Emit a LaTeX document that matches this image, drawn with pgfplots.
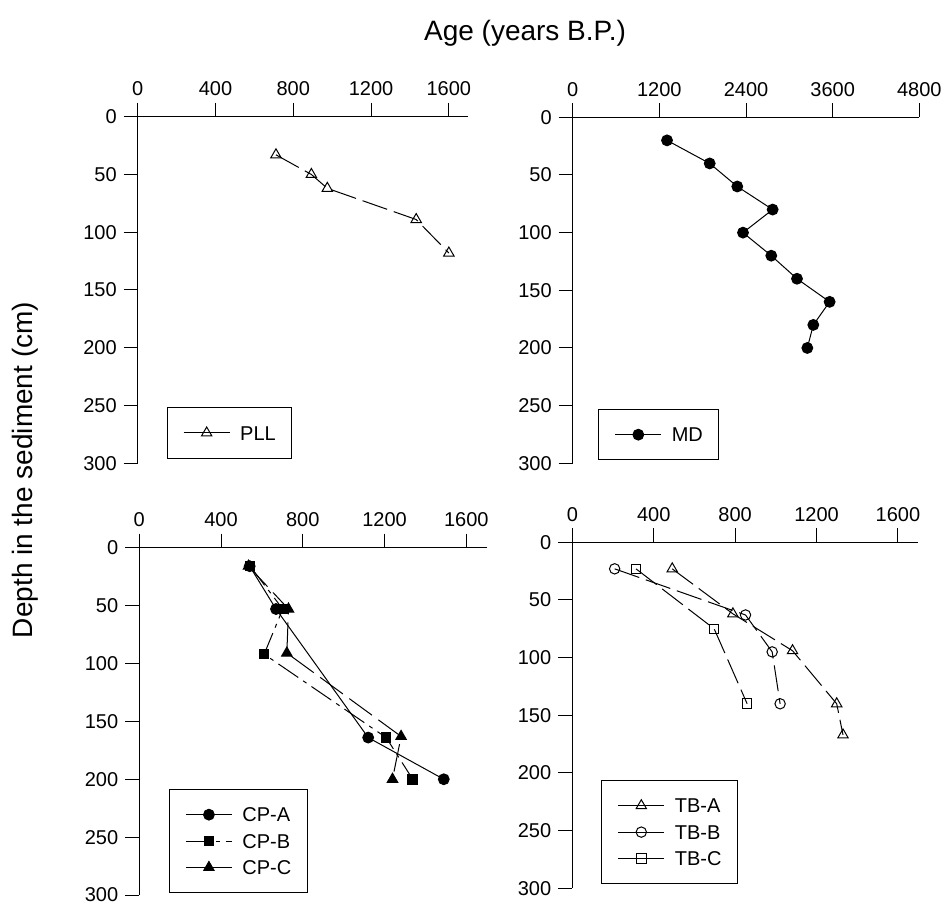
\documentclass[border=0pt]{standalone}
\usepackage{fontspec}
\setmainfont{Liberation Sans}
\usepackage{pgfplots}
\pgfplotsset{compat=1.18}
\pgfplotsset{
  core/.style={
    scale only axis, anchor=center,
    y dir=reverse, ymin=0, ymax=300, ytick={0,50,...,300},
    xmin=0,
    axis x line=top, axis y line=left,
    axis line style={-, line width=0.5pt, black},
    tick align=outside, major tick length=7pt,
    tick style={black, line width=0.5pt},
    tick label style={font=\fontsize{10}{12}\selectfont},
    /pgf/number format/assume math mode=true,
    /pgf/number format/1000 sep={},
    clip=false,
    legend cell align=left,
    legend style={draw=black, line width=0.5pt, inner xsep=8pt, inner ysep=9pt,
      font=\fontsize{10}{12}\selectfont, row sep=6pt, anchor=north west,
      nodes={inner sep=0pt, text height=7.2pt, text depth=0pt},
      /tikz/every odd column/.append style={column sep=5pt}},
    legend image code/.code={\draw[mark repeat=2,mark phase=2,#1]
      plot coordinates {(0pt,0pt) (11.5pt,0pt) (23pt,0pt)};},
  },
  every axis plot/.append style={line width=0.5pt, black},
  otri/.style={mark=triangle, mark size=3pt, mark options={solid, fill=white}},
  ocirc/.style={mark=o, mark size=2.6pt, mark options={solid, fill=white}},
  osq/.style={mark=square, mark size=2.4pt, mark options={solid, fill=white}},
  ftri/.style={mark=triangle*, mark size=3pt, mark options={solid}},
  fcirc/.style={mark=*, mark size=2.7pt, mark options={solid}},
  fsq/.style={mark=square*, mark size=2.4pt, mark options={solid}},
  longdash/.style={dash pattern=on 13pt off 3.5pt},
}
\begin{document}
\begin{tikzpicture}
\useasboundingbox (0pt,0pt) rectangle (472.5pt,452pt);

% PLL
\begin{axis}[core, at={(151.5pt,307pt)}, width=165.3pt, height=173.3pt,
  xmax=1700, xtick={0,400,...,1600},
  legend style={at={(axis cs:149,251.5)}}]
\addplot[otri, longdash, legend image post style={solid}] coordinates {
  (711,33) (893,50) (975,62) (1432,89) (1600,118)};
\addlegendentry{PLL}
\end{axis}

% MD
\begin{axis}[core, at={(373pt,306.85pt)}, width=173.3pt, height=173pt,
  xmax=4800, xtick={0,1200,...,4800},
  legend style={at={(axis cs:354.5,252.9)}}]
\addplot[fcirc] coordinates {
  (1306,20) (1897,40) (2279,60) (2769,80) (2358,100)
  (2750,120) (3106,140) (3558,160) (3332,180) (3249,200)};
\addlegendentry{MD}
\end{axis}

% CP
\begin{axis}[core, at={(156.5pt,91.325pt)}, width=173.7pt, height=173.7pt,
  xmax=1700, xtick={0,400,...,1600},
  legend style={at={(axis cs:145,208.4)}}]
\addplot[fcirc] coordinates {
  (540,16) (669,53) (1120,164) (1490,200)};
\addlegendentry{CP-A}
\addplot[fsq, dash pattern=on 12pt off 3pt on 2pt off 3pt] coordinates {
  (542,16) (702,53) (611,92) (1208,164) (1338,200)};
\addlegendentry{CP-B}
\addplot[ftri, dash pattern=on 14pt off 4pt, legend image post style={solid}] coordinates {
  (534,16) (730,53) (722,91) (1281,163) (1239,200)};
\addlegendentry{CP-C}
\end{axis}

% TB
\begin{axis}[core, at={(372.65pt,94.35pt)}, width=173pt, height=173pt,
  xmax=1700, xtick={0,400,...,1600},
  legend style={at={(axis cs:142.5,206.1)}}]
\addplot[otri, longdash, legend image post style={solid}] coordinates {
  (491,23) (789,62) (1082,94) (1299,140) (1330,167)};
\addlegendentry{TB-A}
\addplot[ocirc, longdash, legend image post style={solid}] coordinates {
  (208,23) (851,63) (982,95) (1021,140)};
\addlegendentry{TB-B}
\addplot[osq, longdash, legend image post style={solid}] coordinates {
  (313,23) (697,75) (859,140)};
\addlegendentry{TB-C}
\end{axis}

\node[font=\fontsize{14}{16}\selectfont] at (262.5pt,435.5pt) {Age (years B.P.)};
\node[font=\fontsize{14}{16}\selectfont, rotate=90] at (12.5pt,217pt) {Depth in the sediment (cm)};
\end{tikzpicture}
\end{document}
